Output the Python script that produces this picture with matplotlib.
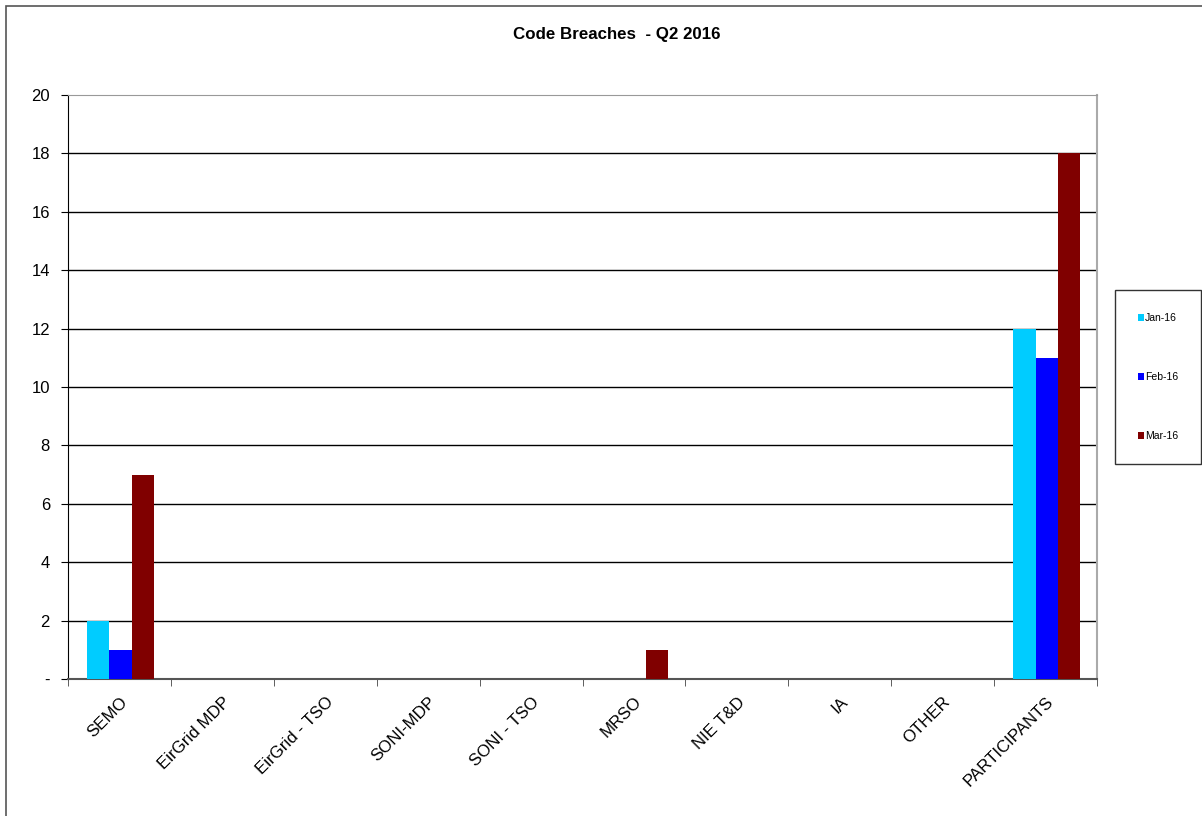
import numpy as np
import matplotlib.pyplot as plt
from matplotlib.patches import Rectangle

plt.rcParams['font.family'] = ['Liberation Sans', 'DejaVu Sans']

categories = ["SEMO", "EirGrid MDP", "EirGrid - TSO", "SONI-MDP", "SONI - TSO",
              "MRSO", "NIE T&D", "IA", "OTHER", "PARTICIPANTS"]
months = ["Jan-16", "Feb-16", "Mar-16"]
jan = [2, 0, 0, 0, 0, 0, 0, 0, 0, 12]
feb = [1, 0, 0, 0, 0, 0, 0, 0, 0, 11]
mar = [7, 0, 0, 0, 0, 1, 0, 0, 0, 18]
colors = ["#00ccff", "#0000ff", "#800000"]
yticks = [0, 2, 4, 6, 8, 10, 12, 14, 16, 18, 20]
ytick_labels = ["-", "2", "4", "6", "8", "10", "12", "14", "16", "18", "20"]

fig = plt.figure(figsize=(12.02, 8.16), dpi=100)
ax = fig.add_axes([68/1202, 1 - 679/816, (1097 - 68)/1202, (679 - 95)/816])

# outer chart frame (only top and left edges show)
fig.add_artist(Rectangle((6/1202, -0.1), 1.2, 1 - 6/816 + 0.1, transform=fig.transFigure,
                         fill=False, edgecolor="#555555", linewidth=1.2))

x = np.arange(len(categories))
w = 0.215
for i, (vals, c, lab) in enumerate(zip([jan, feb, mar], colors, months)):
    ax.bar(x + (i - 1) * w + 0.01, vals, w, color=c, label=lab, zorder=3)

ax.set_xlim(-0.5, len(categories) - 0.5)
ax.set_ylim(0, 20)
ax.set_yticks(yticks)
ax.set_yticklabels(ytick_labels, fontsize=12)
for y in yticks[1:-1]:
    ax.axhline(y, color="black", linewidth=1, zorder=1)

ax.set_xticks(x)
ax.set_xticklabels(categories, rotation=45, ha="right", rotation_mode="anchor", fontsize=12.2)
ax.set_xticks(np.arange(len(categories) + 1) - 0.5, minor=True)
ax.tick_params(axis="x", which="major", length=0, pad=11)
ax.tick_params(axis="x", which="minor", length=5, color="#444444")
ax.tick_params(axis="y", length=5, direction="out", pad=8)

ax.spines["left"].set_color("black")
ax.spines["bottom"].set_color("#555555")
ax.spines["bottom"].set_linewidth(1.5)
ax.spines["top"].set_color("#999999")
ax.spines["right"].set_color("#aaaaaa")
ax.spines["right"].set_linewidth(1.5)

fig.text(617/1202, 1 - 35/816, "Code Breaches  - Q2 2016", ha="center", va="center",
         fontsize=12.2, fontweight="bold")

leg = fig.legend(loc="center", bbox_to_anchor=(1158/1202, 1 - 377/816), frameon=True,
                 fontsize=7.5, handlelength=0.6, handleheight=0.6, handletextpad=0.1,
                 labelspacing=4.7, borderpad=2.2, fancybox=False, borderaxespad=0)
leg.get_frame().set_edgecolor("black")
leg.get_frame().set_linewidth(1)

fig.savefig("out.png", dpi=100)
